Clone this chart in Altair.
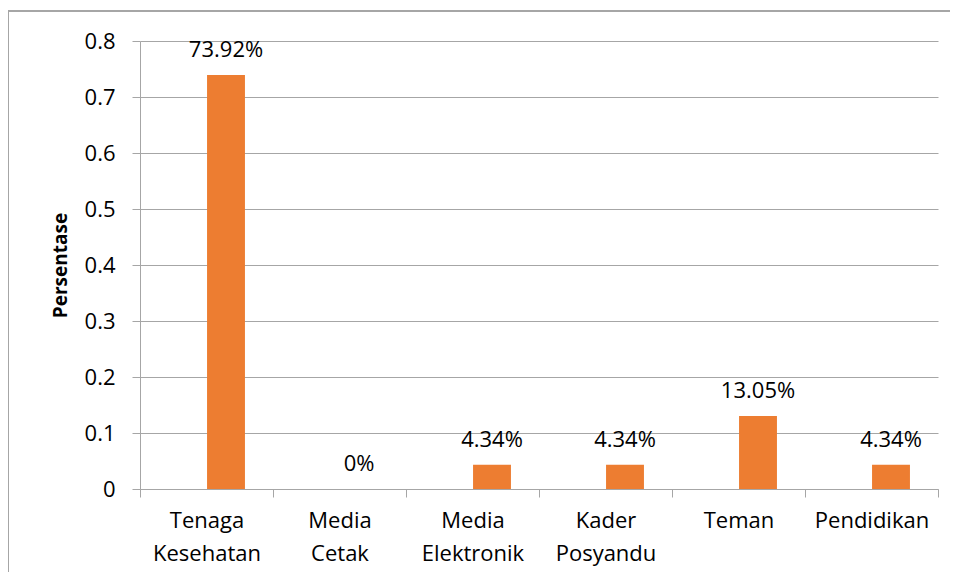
import altair as alt
import pandas as pd

categories = ["Tenaga Kesehatan", "Media Cetak", "Media Elektronik", "Kader Posyandu", "Teman", "Pendidikan"]
values = [0.7392, 0.0, 0.0434, 0.0434, 0.1305, 0.0434]
value_labels = ["73.92%", "0%", "4.34%", "4.34%", "13.05%", "4.34%"]
y_ticks = [0, 0.1, 0.2, 0.3, 0.4, 0.5, 0.6, 0.7, 0.8]

df = pd.DataFrame({"cat": categories, "val": values, "lab": value_labels})

FONT = "Open Sans"
GRID = "#A6A6A6"
FS = 22

x_enc = alt.X("cat:N", sort=categories, title=None,
              scale=alt.Scale(paddingInner=0, paddingOuter=0),
              axis=alt.Axis(labelAngle=0, labelExpr="split(datum.label, ' ')",
                            labelFontSize=FS, labelFont=FONT, labelColor="#000000",
                            labelLineHeight=33, labelPadding=13,
                            tickBand="extent", tickSize=8, tickColor=GRID,
                            domainColor=GRID, grid=False, labelBaseline="top"))
y_enc = alt.Y("val:Q", title="Persentase",
              scale=alt.Scale(domain=[0, 0.8], nice=False),
              axis=alt.Axis(values=y_ticks, format="~g", labelFontSize=FS, labelFont=FONT,
                            labelColor="#000000", labelPadding=17, tickSize=8,
                            tickColor=GRID, domainColor=GRID, gridColor=GRID,
                            titleFont=FONT, titleFontSize=19, titleFontWeight="bold",
                            titleColor="#000000", titlePadding=14))

bars = alt.Chart(df).mark_bar(color="#ED7D31", width=alt.RelativeBandSize(0.285),
                              xOffset=19.5).encode(x=x_enc, y=y_enc)

text = alt.Chart(df).mark_text(baseline="alphabetic", dy=-18, dx=19.5, fontSize=FS,
                               font=FONT, color="#000000").encode(
    x=alt.X("cat:N", sort=categories), y="val:Q", text="lab:N")

border_top = alt.Chart(df).mark_rule(stroke="#A6A6A6", strokeWidth=1.5).encode(
    x=alt.value(-132), x2=alt.value(900), y=alt.value(-30))
border_left = alt.Chart(df).mark_rule(stroke="#A6A6A6", strokeWidth=1.5).encode(
    x=alt.value(-132), y=alt.value(-30), y2=alt.value(700))

chart = alt.layer(border_top, border_left, bars, text).properties(
    width=798, height=448,
    autosize=alt.AutoSizeParams(type="none"),
    padding={"left": 132, "top": 33, "right": 12, "bottom": 83},
).configure_view(stroke=None)

chart.save("out.html", embed_options={"renderer": "svg", "actions": False})
